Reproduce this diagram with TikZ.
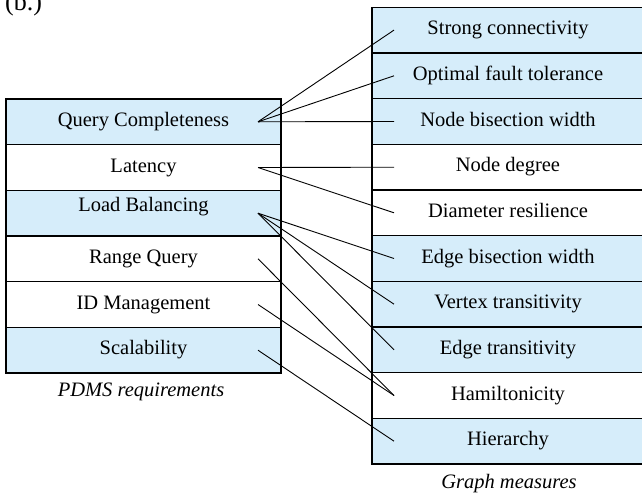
\documentclass[tikz,border=0pt]{standalone}
\usepackage{fontspec}
\setmainfont{Liberation Serif}
\definecolor{rowblue}{RGB}{214,237,250}
\begin{document}
\begin{tikzpicture}[x=1pt,y=-1pt,
  rowbox/.style={draw=black, line width=1.1pt, rectangle, inner sep=0pt, outer sep=0pt,
    minimum height=45.67pt, text height=14pt, text depth=4.5pt,
    font=\fontsize{20.5}{24}\selectfont},
  lrow/.style={rowbox, minimum width=275pt},
  rrow/.style={rowbox, minimum width=272pt},
  bluerow/.style={fill=rowblue},
  whiterow/.style={fill=white},
  link/.style={draw=black, line width=0.9pt},
  captext/.style={font=\fontsize{20.5}{24}\selectfont\itshape, anchor=base, inner sep=0pt}
]
\useasboundingbox (0,0) rectangle (642,493);

% left column
\node[lrow, bluerow]  (l1) at (143.5,121.8) {Query Completeness};
\node[lrow, whiterow] (l2) at (143.5,167.5) {Latency};
\node[lrow, bluerow, text depth=17.5pt]  (l3) at (143.5,213.2) {Load Balancing};
\node[lrow, whiterow] (l4) at (143.5,258.8) {Range Query};
\node[lrow, whiterow] (l5) at (143.5,304.5) {ID Management};
\node[lrow, bluerow]  (l6) at (143.5,350.2) {Scalability};

% right column
\node[rrow, bluerow]  (r1)  at (508,30.1)  {Strong connectivity};
\node[rrow, bluerow]  (r2)  at (508,75.8)  {Optimal fault tolerance};
\node[rrow, bluerow]  (r3)  at (508,121.5) {Node bisection width};
\node[rrow, whiterow] (r4)  at (508,167.2) {Node degree};
\node[rrow, whiterow] (r5)  at (508,212.8) {Diameter resilience};
\node[rrow, bluerow]  (r6)  at (508,258.5) {Edge bisection width};
\node[rrow, bluerow]  (r7)  at (508,304.2) {Vertex transitivity};
\node[rrow, bluerow]  (r8)  at (508,349.8) {Edge transitivity};
\node[rrow, whiterow] (r9)  at (508,395.5) {Hamiltonicity};
\node[rrow, bluerow]  (r10) at (508,441.2) {Hierarchy};

% captions
\node[captext] (cl) at (141,396) {PDMS requirements};
\node[captext] (cr) at (509,488) {Graph measures};
\node[anchor=base west, inner sep=0pt, font=\fontsize{26}{30}\selectfont] (lab) at (5,10) {(b.)};

% endpoints
\foreach \i in {1,...,6} {\coordinate (a\i) at ([xshift=-23pt]l\i.east);}
\foreach \i in {1,...,10} {\coordinate (b\i) at ([xshift=22pt]r\i.west);}

% connectors
\draw[link] (a1) -- (b1);
\draw[link] (a1) -- (b2);
\draw[link] (a1) -- (b3);
\draw[link] (a2) -- (b4);
\draw[link] (a2) -- (b5);
\draw[link] (a3) -- (b6);
\draw[link] (a3) -- (b7);
\draw[link] (a3) -- (b8);
\draw[link] (a4) -- (b9);
\draw[link] (a5) -- (b9);
\draw[link] (a6) -- (b10);
\end{tikzpicture}
\end{document}
